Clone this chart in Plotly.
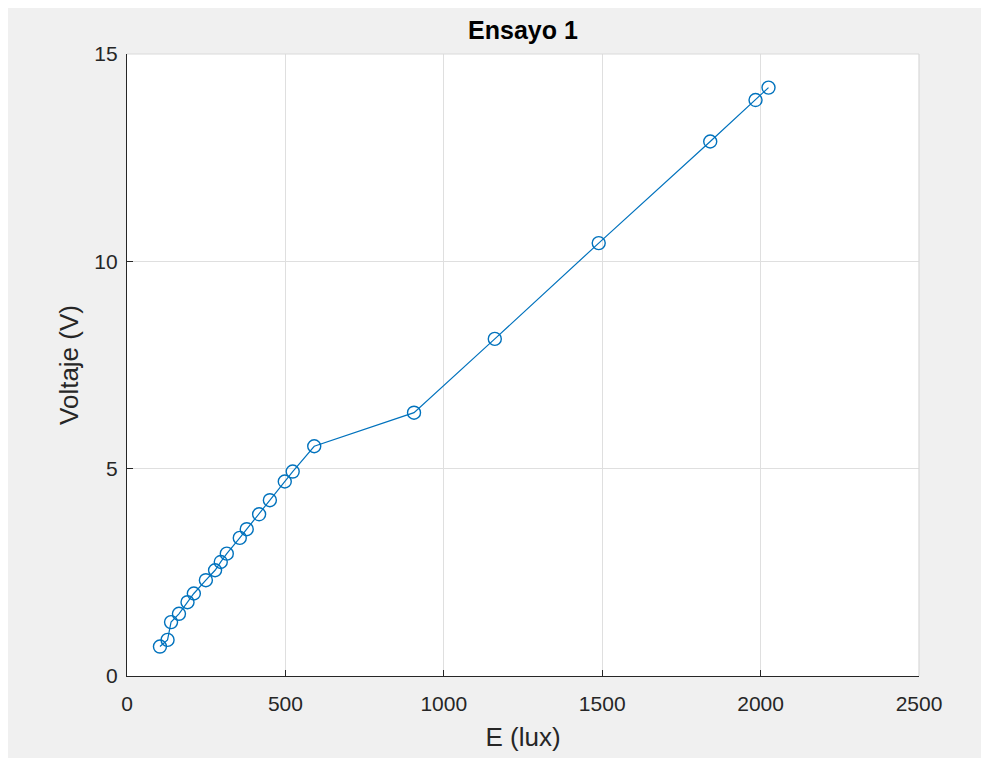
import plotly.graph_objects as go

# Data
iluminancia_lux = [104, 128, 139, 164, 191, 211, 249, 278, 296, 315, 356, 378, 417, 451,
                   498, 523, 591, 906, 1161, 1489, 1841, 1984, 2025]
voltaje_v = [0.71, 0.87, 1.30, 1.50, 1.78, 1.99, 2.31, 2.55, 2.75, 2.95, 3.33, 3.54, 3.90, 4.24,
             4.69, 4.93, 5.54, 6.35, 8.13, 10.44, 12.89, 13.89, 14.19]
x_ticks = [0, 500, 1000, 1500, 2000, 2500]
y_ticks = [0, 5, 10, 15]

# Page body adds an 8px offset; figure fills the rest of the 989x758 window
W, H = 981, 750
L, R, T, B = 119, 70, 46, 80

FONT = "Arial, Liberation Sans, Helvetica, sans-serif"

fig = go.Figure()
fig.add_trace(go.Scatter(
    x=iluminancia_lux, y=voltaje_v, mode="lines+markers",
    line=dict(color="#0072BD", width=1.2),
    marker=dict(symbol="circle-open", size=13, color="#0072BD", line=dict(width=1.4)),
    showlegend=False,
))

tick_font = dict(family=FONT, size=21, color="#262626")
fig.update_layout(
    width=W, height=H,
    margin=dict(l=L, r=R, t=T, b=B),
    paper_bgcolor="#f0f0f0",
    plot_bgcolor="white",
    title=dict(text="<b>Ensayo 1</b>", x=(L + (W - L - R) / 2) / W, xanchor="center",
               y=1 - 22 / H, yanchor="middle",
               font=dict(family=FONT, size=25, color="#000000")),
    xaxis=dict(range=[0, 2500], tickvals=x_ticks, ticks="inside", ticklen=6, tickcolor="#262626",
               showline=True, linecolor="#262626", linewidth=1.2, zeroline=False,
               showgrid=True, gridcolor="#dfdfdf", gridwidth=1,
               tickfont=tick_font, ticklabelstandoff=9,
               title=dict(text="E (lux)", font=dict(family=FONT, size=26, color="#262626"),
                          standoff=13)),
    yaxis=dict(range=[0, 15], tickvals=y_ticks, ticks="inside", ticklen=6, tickcolor="#262626",
               showline=True, linecolor="#262626", linewidth=1.2, zeroline=False,
               showgrid=True, gridcolor="#dfdfdf", gridwidth=1,
               tickfont=tick_font, ticklabelstandoff=4,
               title=dict(text="Voltaje (V)", font=dict(family=FONT, size=26, color="#262626"),
                          standoff=8)),
)

# Light box lines on top and right
fig.add_shape(type="line", xref="paper", yref="paper", x0=0, x1=1, y0=1, y1=1,
              line=dict(color="#d9d9d9", width=1.2))
fig.add_shape(type="line", xref="paper", yref="paper", x0=1, x1=1, y0=0, y1=1,
              line=dict(color="#d9d9d9", width=1.2))

fig.write_html("out.html")
